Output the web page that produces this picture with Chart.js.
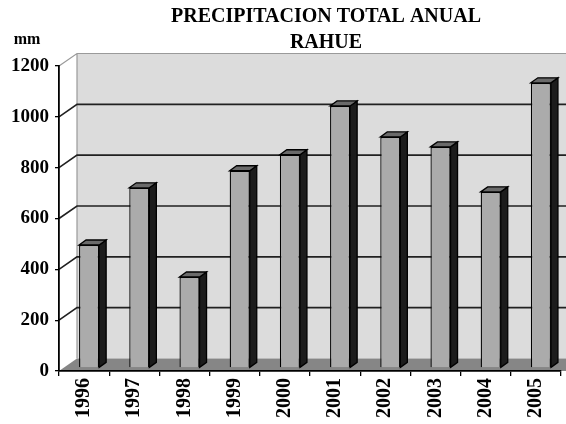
<!DOCTYPE html>
<html>
<head>
<meta charset="utf-8">
<script src="https://cdn.jsdelivr.net/npm/chart.js@4/dist/chart.umd.min.js"></script>
<style>
  html, body { margin: 0; padding: 0; background: #fff; }
  #wrap { width: 566px; height: 424px; }
</style>
</head>
<body>
<div id="wrap"><canvas id="c" width="566" height="424"></canvas></div>
<script>
const categories = ['1996', '1997', '1998', '1999', '2000', '2001', '2002', '2003', '2004', '2005'];
const precipitation = [484, 709, 358, 776, 839, 1031, 909, 870, 693, 1122];
const yTickValues = [0, 200, 400, 600, 800, 1000, 1200];
const titleLines = ['PRECIPITACION TOTAL ANUAL', 'RAHUE'];
const unitLabel = 'mm';

const SERIF = '"Liberation Serif", "Times New Roman", serif';
const wallDepth = { dx: 18, dy: -12.5 };
const barShift = { dx: 5, dy: -3 };
const barDepth = { dx: 7, dy: -5 };

const threeD = {
  id: 'threeD',
  beforeDraw(chart) {
    const { ctx, chartArea: a, scales: { y } } = chart;
    ctx.save();
    ctx.fillStyle = '#ffffff';
    ctx.fillRect(0, 0, chart.width, chart.height);
    const L = a.left, R = a.right, T = a.top, B = a.bottom;
    const dx = wallDepth.dx, dy = wallDepth.dy;
    // back wall
    ctx.fillStyle = '#dcdcdc';
    ctx.fillRect(L + dx, T + dy, R - L + 20, B - T);
    // floor
    ctx.fillStyle = '#868686';
    ctx.beginPath();
    ctx.moveTo(L, B); ctx.lineTo(R + 20, B); ctx.lineTo(R + dx + 20, B + dy); ctx.lineTo(L + dx, B + dy);
    ctx.closePath(); ctx.fill();
    // wall outlines
    ctx.strokeStyle = '#9a9a9a';
    ctx.lineWidth = 1.2;
    ctx.beginPath();
    ctx.moveTo(L, T); ctx.lineTo(L + dx, T + dy); ctx.lineTo(R + dx + 20, T + dy);
    ctx.moveTo(L + dx, T + dy); ctx.lineTo(L + dx, B + dy);
    ctx.stroke();
    // gridlines on back & side wall
    ctx.strokeStyle = '#202020';
    ctx.lineWidth = 1.6;
    yTickValues.forEach(v => {
      if (v <= 0 || v >= 1200) return;
      const py = y.getPixelForValue(v);
      ctx.beginPath();
      ctx.moveTo(L, py); ctx.lineTo(L + dx, py + dy); ctx.lineTo(R + dx + 20, py + dy);
      ctx.stroke();
    });
    ctx.restore();
  },
  beforeDatasetsDraw(chart) {
    chart.ctx.save();
    chart.ctx.translate(barShift.dx, barShift.dy);
  },
  afterDatasetsDraw(chart) {
    const ctx = chart.ctx;
    const meta = chart.getDatasetMeta(0);
    const bx = barDepth.dx, by = barDepth.dy;
    ctx.lineWidth = 1.3;
    ctx.strokeStyle = '#000';
    ctx.lineJoin = 'miter';
    meta.data.forEach(bar => {
      const p = bar.getProps(['x', 'y', 'base', 'width'], true);
      const l = p.x - p.width / 2, r = p.x + p.width / 2, t = p.y, b = p.base;
      // side face
      ctx.fillStyle = '#1c1c1c';
      ctx.beginPath();
      ctx.moveTo(r, b); ctx.lineTo(r + bx, b + by); ctx.lineTo(r + bx, t + by); ctx.lineTo(r, t);
      ctx.closePath(); ctx.fill(); ctx.stroke();
      // top face
      ctx.fillStyle = '#6a6a6a';
      ctx.beginPath();
      ctx.moveTo(l, t); ctx.lineTo(l + bx, t + by); ctx.lineTo(r + bx, t + by); ctx.lineTo(r, t);
      ctx.closePath(); ctx.fill(); ctx.stroke();
    });
    ctx.restore();
  },
  afterDraw(chart) {
    const ctx = chart.ctx;
    ctx.save();
    ctx.fillStyle = '#000';
    ctx.textAlign = 'center';
    ctx.textBaseline = 'middle';
    ctx.font = 'bold 20px ' + SERIF;
    ctx.fillText(titleLines[0], 326, 17);
    ctx.fillText(titleLines[1], 326, 43);
    ctx.font = 'bold 16px ' + SERIF;
    ctx.fillText(unitLabel, 27, 40);
    ctx.restore();
  }
};

new Chart(document.getElementById('c'), {
  type: 'bar',
  data: {
    labels: categories,
    datasets: [{
      data: precipitation,
      backgroundColor: '#ababab',
      borderColor: '#000000',
      borderWidth: 1.3,
      categoryPercentage: 1.0,
      barPercentage: 0.4,
      clip: false
    }]
  },
  options: {
    responsive: false,
    animation: false,
    devicePixelRatio: 1,
    layout: { padding: { top: 66, right: 5, left: 0, bottom: 0 } },
    plugins: { legend: { display: false }, title: { display: false }, tooltip: { enabled: false } },
    scales: {
      x: {
        afterFit(s) { s.height = 53; },
        grid: { drawOnChartArea: false, tickLength: 5, color: '#000', lineWidth: 1.3, offset: true },
        border: { display: true, color: '#000', width: 1.8 },
        ticks: {
          color: '#000', font: { family: SERIF, size: 20, weight: 'bold' },
          minRotation: 90, maxRotation: 90, autoSkip: false, padding: 2
        }
      },
      y: {
        min: 0, max: 1200,
        afterFit(s) { s.width = 59; },
        afterBuildTicks(s) { s.ticks = yTickValues.map(v => ({ value: v })); },
        grid: { drawOnChartArea: false, tickLength: 4, color: '#000', lineWidth: 1.3 },
        border: { display: true, color: '#000', width: 1.8 },
        ticks: {
          color: '#000', font: { family: SERIF, size: 19, weight: 'bold' },
          padding: 6,
          callback: (v) => String(v)
        }
      }
    }
  },
  plugins: [threeD]
});
</script>
</body>
</html>
